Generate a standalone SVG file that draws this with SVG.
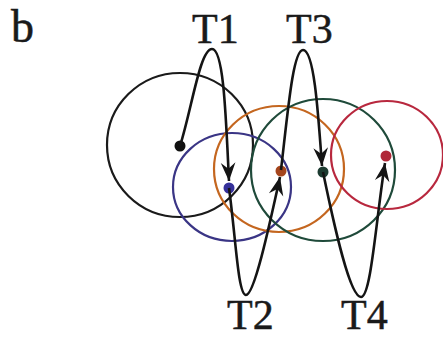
<svg xmlns="http://www.w3.org/2000/svg" width="443" height="339" viewBox="0 0 443 339">
<style>
.lbl{font-family:"Liberation Serif","Times New Roman",serif;font-size:42px;fill:#1a1a1a;stroke:#1a1a1a;stroke-width:0.5}
.ring{fill:none;stroke-width:2.2}
.con{fill:none;stroke:#141414;stroke-width:2.6}
</style>
<defs>
<marker id="arr" markerUnits="userSpaceOnUse" markerWidth="22" markerHeight="22" viewBox="-16 -8 18 16" refX="0" refY="0" orient="auto">
<path d="M0,0 L-15,-6 L-10,0 L-15,6 Z" fill="#141414"/>
</marker>
</defs>
<rect width="443" height="339" fill="#fff"/>
<text class="lbl" x="11" y="42" style="font-size:46px">b</text>
<g id="circles">
<g id="c-black"><ellipse class="ring" cx="180" cy="145" rx="73" ry="72" stroke="#1a1a1a"/><circle cx="180" cy="146" r="5.5" fill="#111"/></g>
<g id="c-blue"><ellipse class="ring" cx="232" cy="187" rx="59" ry="54" stroke="#3a3585"/><circle cx="229" cy="188" r="5.5" fill="#35309a"/></g>
<g id="c-orange"><ellipse class="ring" cx="279" cy="169" rx="65" ry="63" stroke="#c4661f"/><circle cx="281" cy="171" r="5.5" fill="#a5451c"/></g>
<g id="c-green"><ellipse class="ring" cx="323" cy="170" rx="72" ry="71" stroke="#1f4a3a"/><circle cx="323" cy="172" r="5.5" fill="#1c3b30"/></g>
<g id="c-red"><ellipse class="ring" cx="387" cy="155" rx="56" ry="54" stroke="#b8283e"/><circle cx="386" cy="156" r="5.5" fill="#b02838"/></g>
</g>
<g id="connectors">
<path class="con" d="M180,146 C192,108 200,49 212,49 C224,49 226,120 229,181" marker-end="url(#arr)"/>
<path class="con" d="M229,188 C236,240 238,295 246,295 C254,295 268,232 280,177" marker-end="url(#arr)"/>
<path class="con" d="M281,170 C288,110 293,50 303,50 C314,50 318,110 322,166" marker-end="url(#arr)"/>
<path class="con" d="M323,172 C335,230 350,297 361,297 C371,297 376,220 385,163" marker-end="url(#arr)"/>
</g>
<g id="labels">
<text class="lbl" x="192" y="43">T1</text>
<text class="lbl" x="286" y="43">T3</text>
<text class="lbl" x="227" y="329">T2</text>
<text class="lbl" x="341" y="329">T4</text>
</g>
</svg>
